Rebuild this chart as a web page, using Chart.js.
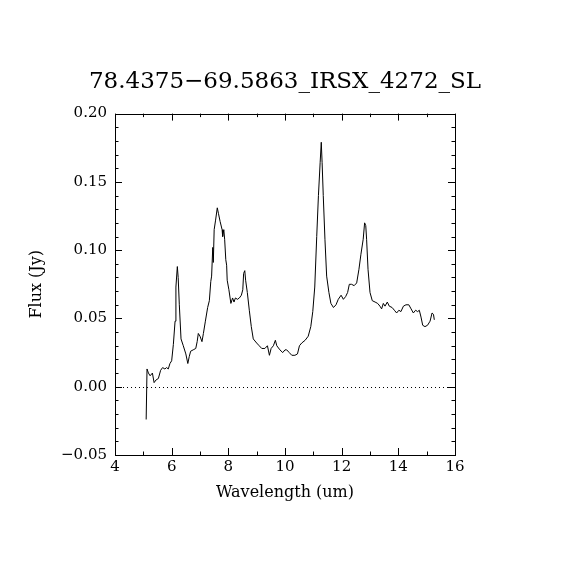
<!DOCTYPE html>
<html>
<head>
<meta charset="utf-8">
<script src="https://cdn.jsdelivr.net/npm/chart.js@4/dist/chart.umd.min.js"></script>
<style>
	body { margin: 0; background: #fff; }
	canvas { display: block; }
</style>
</head>
<body>
<canvas id="myChart" width="570" height="570"></canvas>
<script>
// spectrum
var wavelength = [
	5.10, 5.13, 5.18, 5.24, 5.32, 5.38, 5.45, 5.53, 5.61, 5.68, 5.76, 5.82, 5.88, 5.94, 6.00,
	6.06, 6.12, 6.15, 6.20, 6.23, 6.27, 6.33, 6.41, 6.50, 6.57, 6.62, 6.67, 6.76, 6.85, 6.90,
	6.94, 7.00, 7.07, 7.12, 7.19, 7.27, 7.33, 7.38, 7.41, 7.45, 7.47, 7.50, 7.55, 7.61, 7.65,
	7.71, 7.78, 7.80, 7.84, 7.87, 7.91, 7.94, 7.96, 8.02, 8.09, 8.15, 8.20, 8.25, 8.32, 8.39,
	8.46, 8.51, 8.54, 8.58, 8.61, 8.67, 8.74, 8.81, 8.88, 9.00, 9.09, 9.18, 9.29, 9.38, 9.45,
	9.51, 9.59, 9.66, 9.71, 9.82, 9.92, 10.00, 10.06, 10.15, 10.24, 10.35, 10.44, 10.51, 10.59, 10.71,
	10.82, 10.91, 10.98, 11.05, 11.12, 11.18, 11.24, 11.28, 11.31, 11.35, 11.41, 11.47, 11.55, 11.62, 11.71,
	11.80, 11.88, 11.98, 12.06, 12.14, 12.21, 12.27, 12.35, 12.44, 12.53, 12.61, 12.68, 12.76, 12.81, 12.85,
	12.88, 12.93, 13.00, 13.08, 13.18, 13.27, 13.35, 13.41, 13.47, 13.53, 13.61, 13.68, 13.78, 13.86, 13.94,
	14.02, 14.09, 14.18, 14.27, 14.37, 14.45, 14.53, 14.61, 14.68, 14.74, 14.80, 14.86, 14.94, 15.03, 15.12,
	15.19, 15.24, 15.27
];
var flux = [
	-0.024, 0.013, 0.010, 0.008, 0.010, 0.003, 0.005, 0.006, 0.012, 0.014, 0.013, 0.014, 0.013, 0.017, 0.019,
	0.031, 0.048, 0.073, 0.088, 0.080, 0.060, 0.035, 0.030, 0.024, 0.017, 0.022, 0.026, 0.027, 0.028, 0.033,
	0.039, 0.037, 0.033, 0.039, 0.048, 0.058, 0.063, 0.077, 0.081, 0.102, 0.091, 0.115, 0.122, 0.131, 0.127,
	0.121, 0.115, 0.110, 0.115, 0.108, 0.093, 0.089, 0.078, 0.071, 0.061, 0.065, 0.062, 0.065, 0.064, 0.065,
	0.067, 0.071, 0.083, 0.085, 0.078, 0.069, 0.056, 0.044, 0.035, 0.032, 0.030, 0.028, 0.028, 0.030, 0.023,
	0.028, 0.030, 0.034, 0.030, 0.027, 0.025, 0.027, 0.027, 0.025, 0.023, 0.023, 0.024, 0.030, 0.032, 0.034,
	0.037, 0.044, 0.055, 0.073, 0.110, 0.140, 0.164, 0.179, 0.164, 0.140, 0.108, 0.081, 0.069, 0.061, 0.058,
	0.060, 0.064, 0.067, 0.064, 0.066, 0.069, 0.075, 0.075, 0.074, 0.076, 0.086, 0.097, 0.108, 0.120, 0.118,
	0.108, 0.086, 0.069, 0.063, 0.062, 0.061, 0.059, 0.057, 0.061, 0.059, 0.062, 0.059, 0.058, 0.056, 0.054,
	0.056, 0.055, 0.059, 0.060, 0.060, 0.057, 0.054, 0.056, 0.055, 0.056, 0.051, 0.045, 0.044, 0.045, 0.048,
	0.054, 0.053, 0.049
];
var xTicks = [4, 6, 8, 10, 12, 14, 16];
var yTicks = [-0.05, 0.00, 0.05, 0.10, 0.15, 0.20];
var chartTitle = "78.4375\u221269.5863_IRSX_4272_SL";
var xTitle = "Wavelength (um)";
var yTitle = "Flux (Jy)";

var serif = "'DejaVu Serif', serif";

// frame, inward ticks on all four sides and the dotted zero line
var idlFrame = {
	id: 'idlFrame',
	afterDraw: function(chart) {
		var ctx = chart.ctx;
		var xs = chart.scales.x, ys = chart.scales.y;
		var a = chart.chartArea;
		ctx.save();
		ctx.strokeStyle = '#000';
		ctx.lineWidth = 1;

		ctx.setLineDash([1, 3]);
		var y0 = Math.round(ys.getPixelForValue(0)) + 0.5;
		ctx.beginPath();
		ctx.moveTo(a.left, y0);
		ctx.lineTo(a.right, y0);
		ctx.stroke();
		ctx.setLineDash([]);

		ctx.strokeRect(Math.round(a.left) + 0.5, Math.round(a.top) + 0.5,
			Math.round(a.right - a.left), Math.round(a.bottom - a.top));

		ctx.beginPath();
		for (var v = xTicks[0]; v <= xTicks[xTicks.length - 1] + 1e-9; v += 1) {
			var px = Math.round(xs.getPixelForValue(v)) + 0.5;
			var len = (xTicks.indexOf(v) >= 0) ? 7 : 3.5;
			ctx.moveTo(px, a.bottom); ctx.lineTo(px, a.bottom - len);
			ctx.moveTo(px, a.top); ctx.lineTo(px, a.top + len);
		}
		for (var i = 0; i <= 25; i++) {
			var val = -0.05 + i * 0.01;
			var py = Math.round(ys.getPixelForValue(val)) + 0.5;
			var l2 = (i % 5 == 0) ? 7 : 3.5;
			ctx.moveTo(a.left, py); ctx.lineTo(a.left + l2, py);
			ctx.moveTo(a.right, py); ctx.lineTo(a.right - l2, py);
		}
		ctx.stroke();
		ctx.restore();
	}
};

const points = wavelength.map(function(w, i) { return { x: w, y: flux[i] }; });

const config = {
	type: 'line',
	data: {
		datasets: [{
			data: points,
			borderColor: '#000',
			borderWidth: 1,
			pointRadius: 0,
			tension: 0,
			fill: false
		}]
	},
	options: {
		responsive: false,
		animation: false,
		devicePixelRatio: 1,
		layout: { padding: { left: 23, right: 23, top: 0, bottom: 64 } },
		plugins: {
			legend: { display: false },
			tooltip: { enabled: false },
			title: {
				display: true,
				text: chartTitle,
				color: '#000',
				font: { family: serif, size: 23, weight: 'normal' },
				padding: { top: 68, bottom: 18 }
			}
		},
		scales: {
			x: {
				type: 'linear',
				min: xTicks[0],
				max: xTicks[xTicks.length - 1],
				afterBuildTicks: function(s) { s.ticks = xTicks.map(function(v) { return { value: v }; }); },
				ticks: { color: '#000', padding: 3, maxRotation: 0, font: { family: serif, size: 15 } },
				grid: { display: false, drawTicks: false },
				border: { display: false },
				title: { display: true, text: xTitle, color: '#000', font: { family: serif, size: 16 } },
				afterFit: function(s) { s.height = 51; }
			},
			y: {
				type: 'linear',
				min: yTicks[0],
				max: yTicks[yTicks.length - 1],
				afterBuildTicks: function(s) { s.ticks = yTicks.map(function(v) { return { value: v }; }); },
				ticks: {
					color: '#000', padding: 8, font: { family: serif, size: 15 },
					callback: function(v) { return v < 0 ? '\u2212' + Math.abs(v).toFixed(2) : v.toFixed(2); }
				},
				grid: { display: false, drawTicks: false },
				border: { display: false },
				title: { display: true, text: yTitle, color: '#000', font: { family: serif, size: 16 } },
				afterFit: function(s) { s.width = 92; }
			},
			// empty right-hand axis so the plot box sits where the reference has it
			yRight: {
				type: 'linear',
				position: 'right',
				min: yTicks[0],
				max: yTicks[yTicks.length - 1],
				ticks: { display: false },
				grid: { display: false, drawTicks: false },
				border: { display: false },
				afterFit: function(s) { s.width = 92; }
			}
		}
	},
	plugins: [idlFrame]
};

const chart1 = new Chart(document.getElementById('myChart'), config);
</script>
</body>
</html>
